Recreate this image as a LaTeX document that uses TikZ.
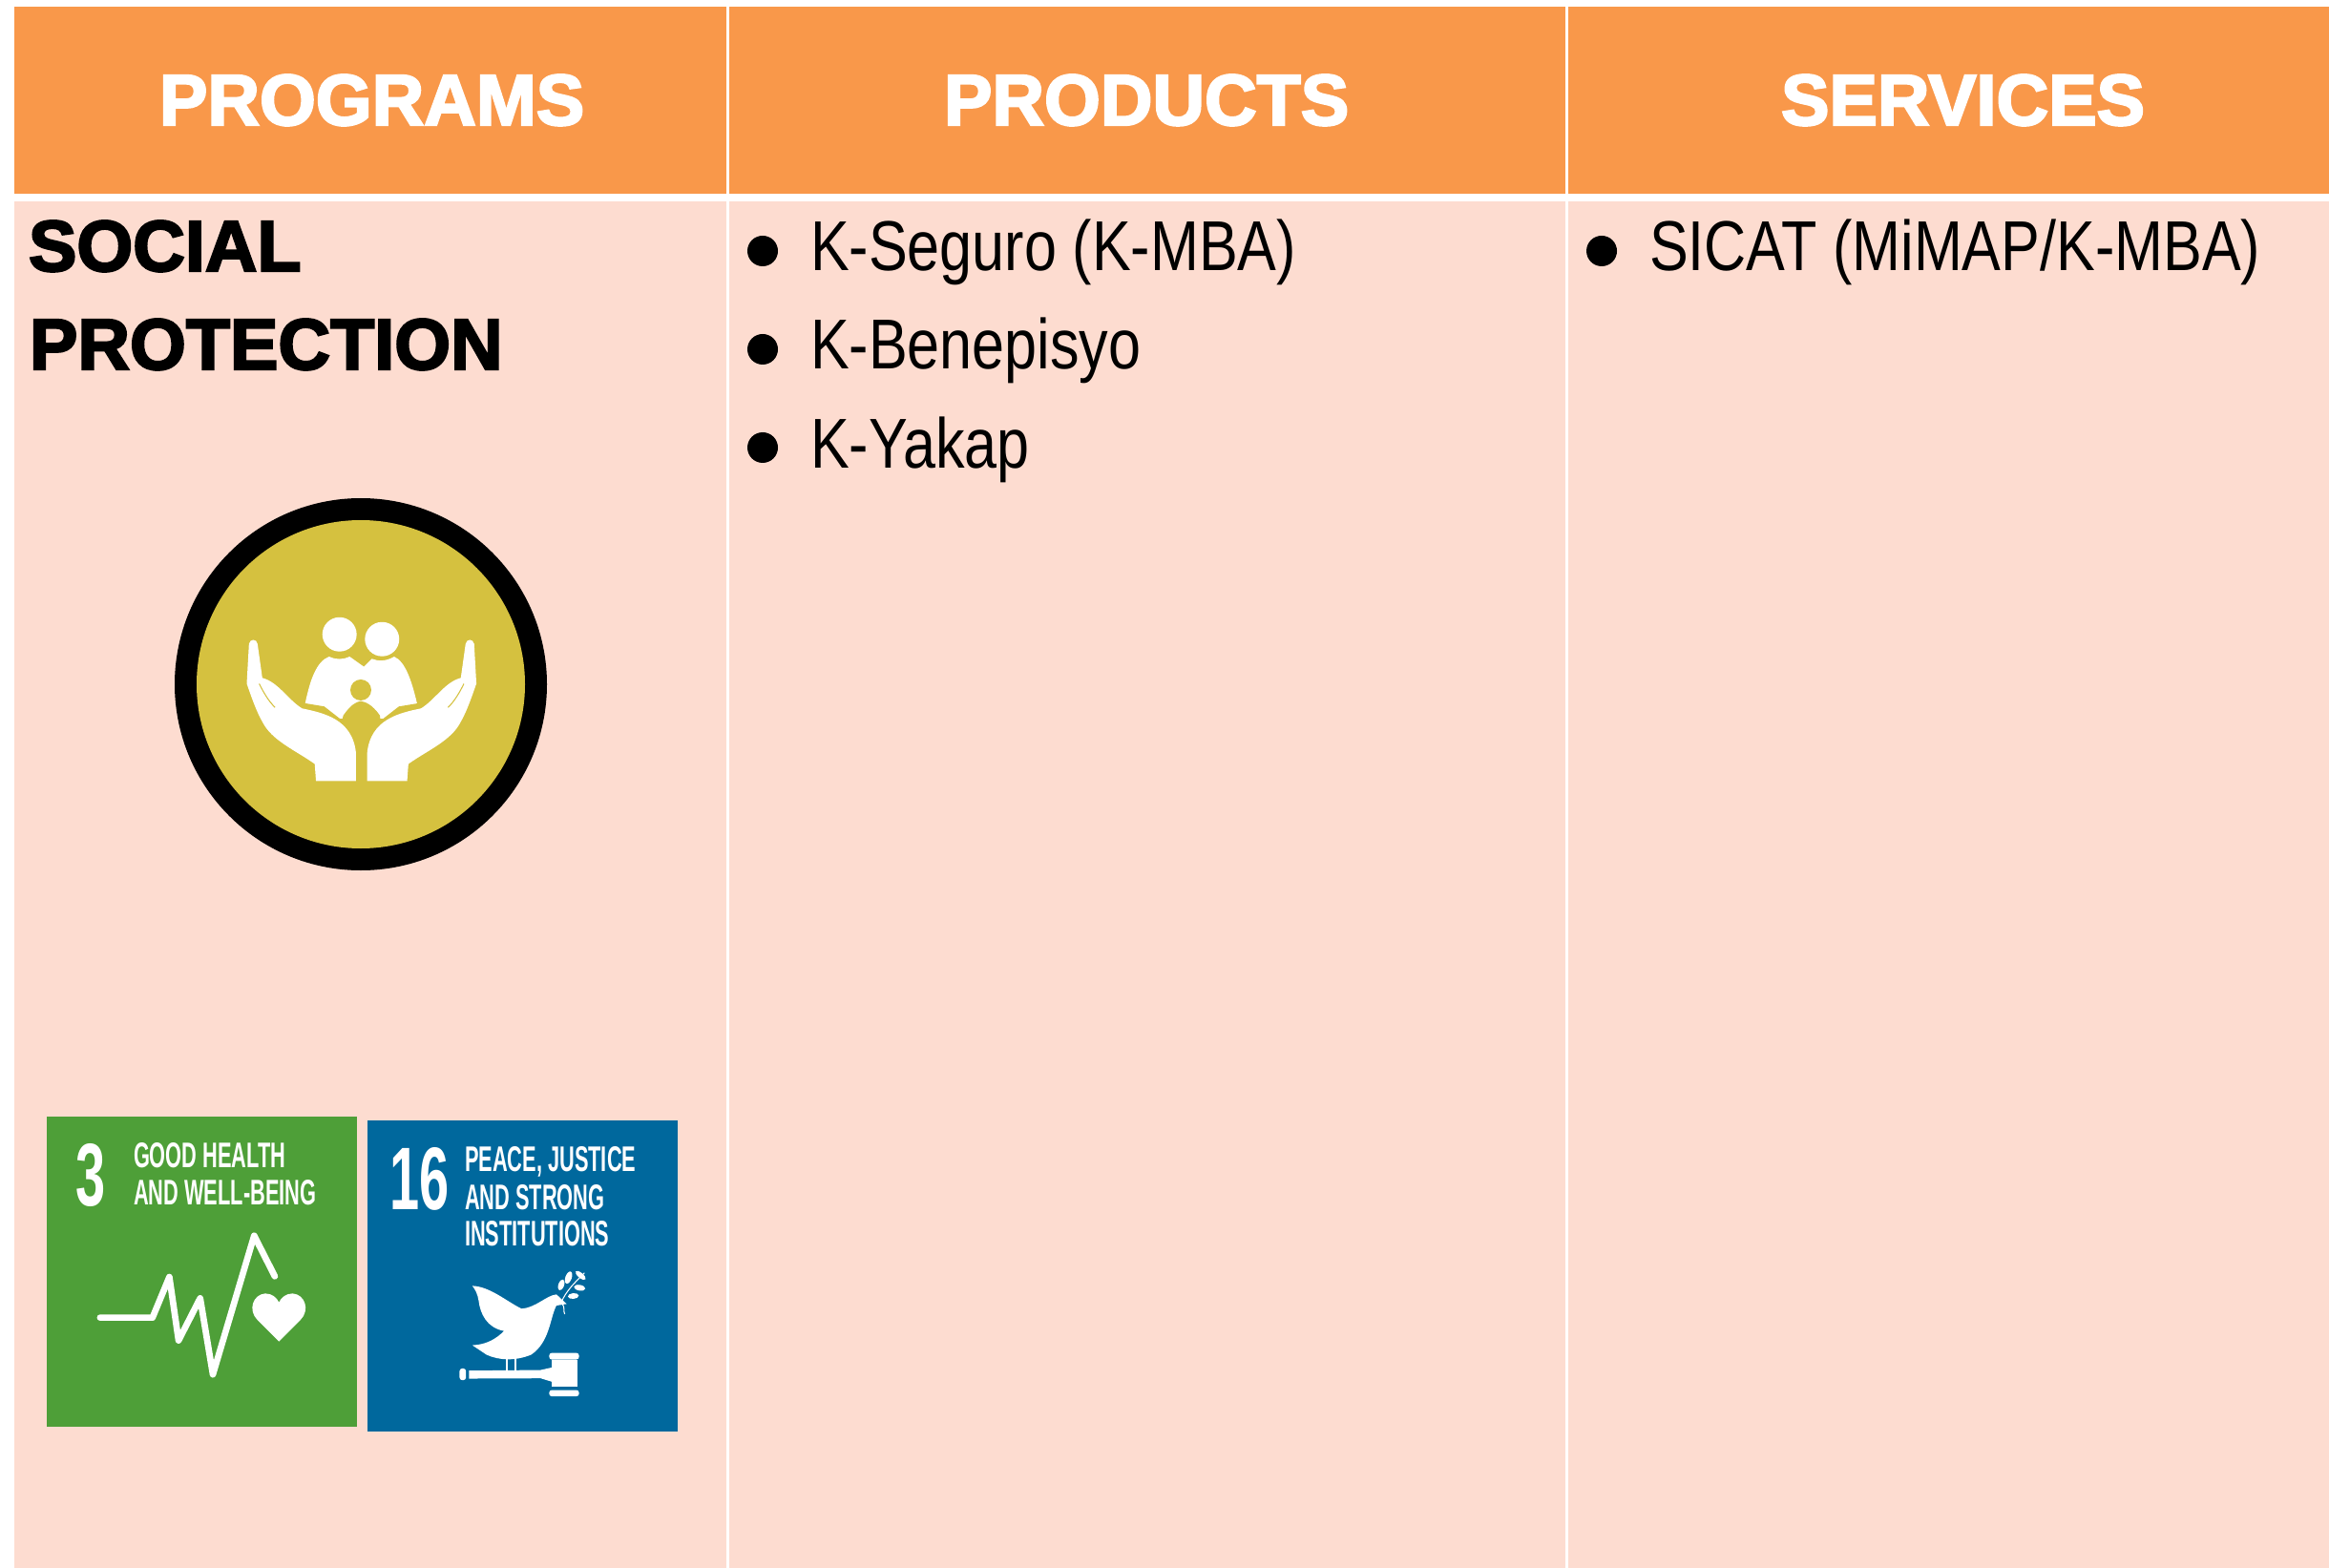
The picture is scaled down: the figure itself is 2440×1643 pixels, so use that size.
\documentclass[tikz,border=0pt]{standalone}
\usepackage{fontspec}
\setmainfont{Liberation Sans}
\newfontfamily\headfont[UprightFont={* Bold},FakeBold=3]{Liberation Sans}
\newfontfamily\bodyfont[FakeStretch=0.825]{Liberation Sans}
\newfontfamily\sdgfont[UprightFont={* Bold},FakeStretch=0.585]{Liberation Sans}
\newfontfamily\numfont[UprightFont={* Bold},FakeStretch=0.6]{Liberation Sans}
\definecolor{hdr}{HTML}{F9984A}
\definecolor{cellbg}{HTML}{FDDCD0}
\definecolor{iconyel}{HTML}{D5C13F}
\definecolor{sdggreen}{HTML}{4E9F38}
\definecolor{sdgblue}{HTML}{00689D}
\tikzset{
 txt/.style={anchor=base west,inner sep=0pt,outer sep=0pt},
 headtxt/.style={txt,text=white,font=\headfont\fontsize{21.5pt}{24pt}\selectfont},
 progtxt/.style={txt,text=black,font=\headfont\fontsize{21.5pt}{24pt}\selectfont},
 bodytxt/.style={txt,text=black,font=\bodyfont\fontsize{21.05pt}{24pt}\selectfont},
 sdgtxt/.style={txt,text=white,font=\sdgfont\fontsize{10.6pt}{12pt}\selectfont},
 numtxt/.style={txt,text=white,font=\numfont\fontsize{26.5pt}{30pt}\selectfont},
 bulletdot/.style={fill=black,draw=none},
}
\begin{document}
\begin{tikzpicture}[x=0.01cm,y=-0.01cm]
\useasboundingbox (0,0) rectangle (2440,1643);
% cells
\fill[hdr] (15,7) rectangle (761,203);
\fill[hdr] (764,7) rectangle (1640,203);
\fill[hdr] (1643,7) rectangle (2440,203);
\fill[cellbg] (15,211) rectangle (761,1643);
\fill[cellbg] (764,211) rectangle (1640,1643);
\fill[cellbg] (1643,211) rectangle (2440,1643);
% headers
\node[headtxt] (h1) at (167,131) {PROGRAMS};
\node[headtxt] (h2) at (989,131) {PRODUCTS};
\node[headtxt] (h3) at (1866,131) {SERVICES};
% programs cell
\node[progtxt] (p1) at (30,284) {SOCIAL};
\node[progtxt] (p2) at (31,387) {PROTECTION};
% bullets
\fill[bulletdot] (799,263) circle (16);
\fill[bulletdot] (799,366) circle (16);
\fill[bulletdot] (799,469) circle (16);
\fill[bulletdot] (1678,263) circle (16);
\node[bodytxt] (b1) at (849,284) {K-Seguro (K-MBA)};
\node[bodytxt] (b2) at (849,387) {K-Benepisyo};
\node[bodytxt] (b3) at (849,491) {K-Yakap};
\node[bodytxt] (s1) at (1728,284) {SICAT (MiMAP/K-MBA)};
% social protection icon
\fill[black] (378,717) circle (195);
\fill[iconyel] (378,717) circle (172);
\begin{scope}[shift={(160,500)},x=0.003333cm,y=-0.003333cm]
 \fill[white] (588,495) circle (54);
 \fill[white] (722,510) circle (54);
 \fill[white] (555,565) .. controls (575,575) and (600,575) .. (620,565)
   -- (665,597) -- (690,572) .. controls (710,580) and (735,580) .. (760,565)
   .. controls (795,580) and (815,640) .. (832,712) -- (790,760) -- (520,760) -- (480,712)
   .. controls (495,640) and (515,580) .. (555,565) -- cycle;
 \fill[iconyel] (655,670) circle (33);
 \fill[iconyel] (600,750) .. controls (625,715) and (640,708) .. (655,705)
   .. controls (670,708) and (690,715) .. (715,750) -- (720,790) -- (590,790) -- cycle;
 \foreach \shiftx/\scalex in {0cm/1,-4.3733cm/-1}{
  \begin{scope}[xscale=\scalex,xshift=\shiftx]
   \fill[iconyel] (480,712) -- (540,722) -- (640,800) -- (600,800) -- (470,730) -- cycle;
   \fill[white]
     (296,650) -- (303,525) .. controls (306,508) and (327,508) .. (330,525)
     -- (345,632) .. controls (395,645) and (425,700) .. (470,728)
     .. controls (535,742) and (630,760) .. (640,870) -- (640,957) -- (514,957) -- (510,903)
     .. controls (450,860) and (375,830) .. (345,770)
     .. controls (325,735) and (310,690) .. (296,650) -- cycle;
   \draw[iconyel,line width=0.3pt] (335,650) .. controls (350,680) and (365,705) .. (385,725);
   \draw[white,line width=0.7pt,line cap=round] (305,640) -- (333,648);
  \end{scope}
 }
\end{scope}
% SDG 3
\fill[sdggreen] (49,1170) rectangle (374,1495);
\node[numtxt] (n3) at (79,1263) {3};
\node[sdgtxt] (g1) at (140,1223) {GOOD HEALTH};
\node[sdgtxt] (g2) at (140,1262) {AND WELL-BEING};
\begin{scope}[shift={(30,1150)},x=0.003333cm,y=-0.003333cm]
 \draw[white,line width=1.9pt,line cap=round,line join=round]
  (225,693) -- (390,693) -- (443,565) -- (472,765) -- (540,632) -- (580,872) -- (710,435) -- (775,563);
 \fill[white] (788,768) -- (720,700) .. controls (690,670) and (705,620) .. (745,617)
   .. controls (765,617) and (782,630) .. (788,645)
   .. controls (794,630) and (811,617) .. (831,617)
   .. controls (871,620) and (886,670) .. (856,700) -- cycle;
\end{scope}
% SDG 16
\fill[sdgblue] (385,1174) rectangle (710,1500);
\node[numtxt] (n16) at (408,1267) {16};
\node[sdgtxt] (d1) at (487,1227) {PEACE, JUSTICE};
\node[sdgtxt] (d2) at (487,1267) {AND STRONG};
\node[sdgtxt] (d3) at (487,1305) {INSTITUTIONS};
\begin{scope}[shift={(370,1150)},x=0.003333cm,y=-0.003333cm]
 \fill[white] (375,593) .. controls (430,595) and (480,640) .. (530,665)
   .. controls (575,662) and (610,622) .. (640,620) -- (672,650) -- (640,655)
   .. controls (620,690) and (620,770) .. (560,810)
   .. controls (510,830) and (460,828) .. (420,810) -- (375,780)
   .. controls (420,778) and (450,760) .. (475,735)
   .. controls (420,725) and (400,680) .. (395,640) .. controls (392,620) and (385,605) .. (375,593) -- cycle;
 \draw[white,line width=0.6pt] (485,815) -- (485,862) (510,815) -- (510,862);
 \fill[white,rounded corners=0.8pt] (335,853) rectangle (355,890);
 \fill[white] (365,860) -- (590,858) -- (626,850) -- (626,895) -- (590,884) -- (365,885) -- cycle;
 \fill[white] (626,826) rectangle (706,910);
 \fill[white,rounded corners=0.8pt] (617,804) rectangle (711,825);
 \fill[white,rounded corners=0.8pt] (617,921) rectangle (711,941);
 \draw[white,line width=0.3pt] (655,645) .. controls (670,610) and (695,585) .. (728,552);
 \draw[white,line width=0.3pt] (658,650) .. controls (668,660) and (660,670) .. (666,682);
 \fill[white,rotate around={70:(655,590)}] (655,590) ellipse (18 and 9);
 \fill[white,rotate around={70:(678,567)}] (678,567) ellipse (20 and 10);
 \fill[white,rotate around={-40:(716,560)}] (716,560) ellipse (20 and 8);
 \fill[white,rotate around={-10:(713,599)}] (713,599) ellipse (18 and 9);
 \fill[white,rotate around={5:(693,625)}] (693,625) ellipse (17 and 9);
\end{scope}
\end{tikzpicture}
\end{document}
